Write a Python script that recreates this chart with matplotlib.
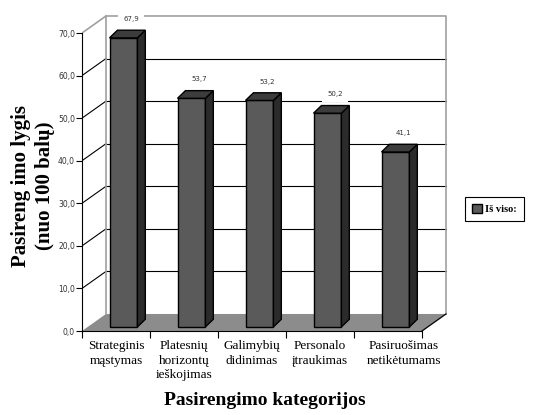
import matplotlib.pyplot as plt
from matplotlib.patches import Polygon, Patch

# duomenys
kategorijos = ['Strateginis\nmąstymas', 'Platesnių\nhorizontų\nieškojimas',
               'Galimybių\ndidinimas', 'Personalo\nįtraukimas',
               'Pasiruošimas\nnetikėtumams']
reiksmes = [67.9, 53.7, 53.2, 50.2, 41.1]
etiketes = ['67,9', '53,7', '53,2', '50,2', '41,1']
y_ticks = [0, 10, 20, 30, 40, 50, 60, 70]
y_tick_labels = ['0,0', '10,0', '20,0', '30,0', '40,0', '50,0', '60,0', '70,0']

SERIF = ['Liberation Serif', 'DejaVu Serif']

# gylio poslinkis (duomenu vienetais)
DX, DY = 0.353, 4.0
f0, f1 = 0.24, 0.57

fig = plt.figure(figsize=(5.41, 4.15), dpi=100)
ax = fig.add_axes([82/541, 84/415, 5.4*68/541, 75*4.257/415])
ax.set_xlim(0, 5.4)
ax.set_ylim(0, 75)
n = len(reiksmes)

# grindys
ax.add_patch(Polygon([(0, 0), (n, 0), (n+DX, DY), (DX, DY)],
                     facecolor='#8c8c8c', edgecolor='none', zorder=1))
ax.plot([n, n+DX], [0, DY], color='black', lw=0.9, zorder=2)

# tinklelis
for t in y_ticks[1:-1]:
    ax.plot([0, DX], [t, t+DY], color='black', lw=0.8, zorder=1)
    ax.plot([DX, n+DX], [t+DY, t+DY], color='black', lw=0.8, zorder=1)
top = y_ticks[-1]
ax.plot([0, DX, n+DX, n+DX], [top, top+DY, top+DY, DY], color='#a0a0a0', lw=1.2, zorder=1)
ax.plot([DX, DX], [DY, top+DY], color='#a0a0a0', lw=1.2, zorder=1)

# stulpeliai
w = 0.41
ddx, ddy = DX*(f1-f0), 1.8
for i, v in enumerate(reiksmes):
    x0 = i + 0.32 + DX*f0
    y0 = DY*f0
    front = [(x0, y0), (x0+w, y0), (x0+w, y0+v), (x0, y0+v)]
    side = [(x0+w, y0), (x0+w+ddx, y0+ddy), (x0+w+ddx, y0+v+ddy), (x0+w, y0+v)]
    lid = [(x0, y0+v), (x0+w, y0+v), (x0+w+ddx, y0+v+ddy), (x0+ddx, y0+v+ddy)]
    ax.add_patch(Polygon(front, facecolor='#5a5a5a', edgecolor='black', lw=1, zorder=3))
    ax.add_patch(Polygon(side, facecolor='#2b2b2b', edgecolor='black', lw=1, zorder=3))
    ax.add_patch(Polygon(lid, facecolor='#3c3c3c', edgecolor='black', lw=1, zorder=3))
    ax.text(i + 0.58 + DX*0.4, v + DY*0.4 + 3.8, etiketes[i], ha='center', va='center',
            fontsize=5, color='#333333', zorder=4,
            bbox=dict(facecolor='white', edgecolor='none', pad=3.5))

# asys
for s in ['top', 'right']:
    ax.spines[s].set_visible(False)
ax.spines['left'].set_bounds(0, top)
ax.spines['bottom'].set_bounds(0, n)
ax.spines['left'].set_zorder(5)
ax.spines['bottom'].set_zorder(5)
ax.set_yticks(y_ticks, y_tick_labels)
ax.tick_params(axis='y', length=4, width=0.8, labelsize=5.5, labelcolor='#333333', pad=1)
ax.set_xticks(range(n+1), [''] * (n+1))
ax.tick_params(axis='x', which='major', length=5, width=0.8)
for i, lab in enumerate(kategorijos):
    xc = i + 0.5 + (0.23 if i == n - 1 else 0)
    ax.text(xc, -0.028, lab, transform=ax.get_xaxis_transform(), ha='center', va='top',
            fontsize=9.5, family=SERIF, linespacing=1.3)
ax.set_facecolor('none')

fig.text(33/541, 1 - 186/415, 'Pasireng imo lygis\n(nuo 100 balų)', rotation=90,
         ha='center', va='center', fontsize=15, fontweight='bold', family=SERIF,
         linespacing=1.3)
fig.text(265/541, 1 - 400/415, 'Pasirengimo kategorijos', ha='center', va='center',
         fontsize=14, fontweight='bold', family=SERIF)

leg = fig.legend(handles=[Patch(facecolor='#5a5a5a', edgecolor='black', label='Iš viso:')],
                 loc='center left', bbox_to_anchor=(465/541, 1 - 209/415),
                 prop={'family': SERIF, 'weight': 'bold', 'size': 7.5},
                 fancybox=False, edgecolor='black', framealpha=1,
                 handlelength=0.9, handleheight=0.9, handletextpad=0.3,
                 borderpad=0.7, borderaxespad=0)
leg.get_frame().set_linewidth(0.8)

fig.savefig('out.png', dpi=100)
